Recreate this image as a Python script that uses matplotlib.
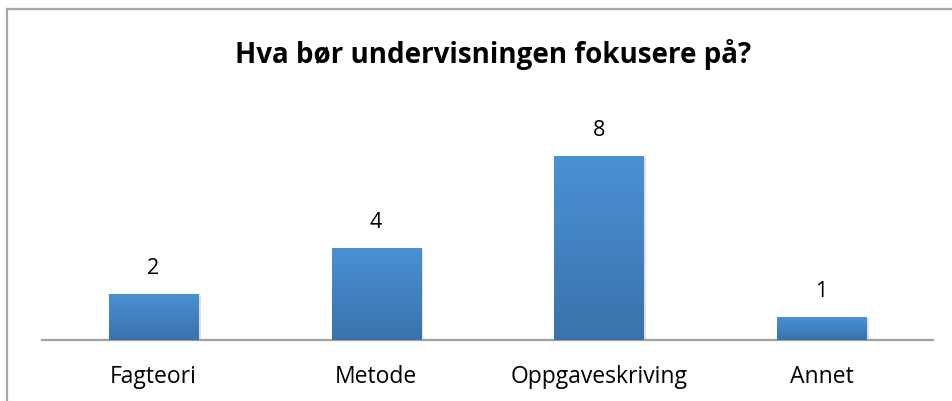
import matplotlib.pyplot as plt
import numpy as np
from matplotlib.patches import Rectangle
from matplotlib.colors import LinearSegmentedColormap

categories = ["Fagteori", "Metode", "Oppgaveskriving", "Annet"]
counts = [2, 4, 8, 1]
title = "Hva bør undervisningen fokusere på?"

plt.rcParams['font.family'] = ['Open Sans', 'DejaVu Sans']

fig = plt.figure(figsize=(9.53, 4.01), dpi=100)
W, H = 953, 401

# outer chart border (top and left visible)
fig.add_artist(plt.Line2D([7.5 / W, 7.5 / W], [0, 1 - 8.5 / H], color='#a6a6a6', lw=1.6))
fig.add_artist(plt.Line2D([7.5 / W, 1], [1 - 8.5 / H, 1 - 8.5 / H], color='#a6a6a6', lw=1.6))

# axes box in pixels: left 42, right 933, baseline at 340, top at 110
ax = fig.add_axes([42 / W, 1 - 340 / H, (933 - 42) / W, 230 / H])
for s in ['top', 'right', 'left']:
    ax.spines[s].set_visible(False)
ax.spines['bottom'].set_color('#a0a0a0')
ax.spines['bottom'].set_linewidth(1.6)
ax.set_yticks([])
ax.set_xticks(range(len(categories)))
ax.set_xticklabels(categories, fontsize=16.5, va='baseline')
ax.tick_params(axis='x', length=0, pad=31)

x = np.arange(len(categories))
bw = 0.40
bars = ax.bar(x, counts, width=bw, color='none', zorder=3)

grad = np.linspace(0, 1, 256).reshape(-1, 1)
cmap = LinearSegmentedColormap.from_list('g', ['#3a72ab', '#4a91d5'])
for b, v in zip(bars, counts):
    x0 = b.get_x()
    # soft shadow
    ax.add_patch(Rectangle((x0 + 0.012, 0), bw, v - 0.05, color='#000000', alpha=0.12,
                           lw=0, zorder=2))
    im = ax.imshow(grad, extent=[x0, x0 + bw, 0, v], origin='lower', cmap=cmap,
                   aspect='auto', zorder=3)
    im.set_clip_path(b)
    ax.text(x0 + bw / 2, v + 0.85, str(v), ha='center', va='baseline', fontsize=15.5)

ax.set_xlim(-0.5, len(categories) - 0.5)
ax.set_ylim(0, 10)

fig.text(493.5 / W, 1 - 63.5 / H, title, ha='center', va='baseline', fontsize=20, fontweight='bold')

fig.savefig('out.png', dpi=100)
